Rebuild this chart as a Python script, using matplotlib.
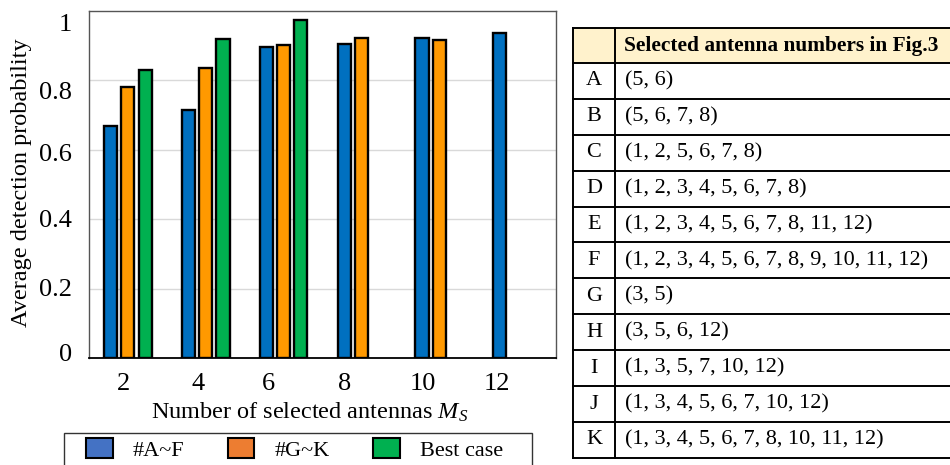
import numpy as np
import matplotlib
matplotlib.use("Agg")
import matplotlib.pyplot as plt
from matplotlib.patches import Rectangle, Patch

plt.rcParams['font.family'] = ['Liberation Serif', 'DejaVu Serif']
plt.rcParams['mathtext.fontset'] = 'custom'
plt.rcParams['mathtext.rm'] = 'Liberation Serif'
plt.rcParams['mathtext.it'] = 'Liberation Serif:italic'

# ---- data ----
categories = [2, 4, 6, 8, 10, 12]
series_names = ['#A~F', '#G~K', 'Best case']
vals_AF = [0.670, 0.714, 0.895, 0.904, 0.922, 0.937]
vals_GK = [0.781, 0.837, 0.901, 0.921, 0.917, np.nan]
vals_best = [0.829, 0.918, 0.974, np.nan, np.nan, np.nan]
yticks = [0, 0.2, 0.4, 0.6, 0.8, 1.0]
ytick_labels = ['0', '0.2', '0.4', '0.6', '0.8', '1']

table_letters = ['A', 'B', 'C', 'D', 'E', 'F', 'G', 'H', 'I', 'J', 'K']
table_sets = ['(5, 6)', '(5, 6, 7, 8)', '(1, 2, 5, 6, 7, 8)', '(1, 2, 3, 4, 5, 6, 7, 8)',
              '(1, 2, 3, 4, 5, 6, 7, 8, 11, 12)', '(1, 2, 3, 4, 5, 6, 7, 8, 9, 10, 11, 12)',
              '(3, 5)', '(3, 5, 6, 12)', '(1, 3, 5, 7, 10, 12)', '(1, 3, 4, 5, 6, 7, 10, 12)',
              '(1, 3, 4, 5, 6, 7, 8, 10, 11, 12)']
table_header = 'Selected antenna numbers in Fig.3'

# ---- styles ----
bar_colors = ['#0070C0', '#FF9900', '#00B050']
legend_colors = ['#4472C4', '#ED7D31', '#00B050']

W, H = 950, 465
fig = plt.figure(figsize=(W / 100, H / 100), dpi=100)

def fx(px):
    return px / W

def fy(py):
    return 1 - py / H

ax = fig.add_axes([fx(89), fy(358), fx(556) - fx(89), fy(11) - fy(358)])

x = np.arange(len(categories))
pitch = 0.222
bw = 0.168
for i, (vals, c) in enumerate(zip([vals_AF, vals_GK, vals_best], bar_colors)):
    ax.bar(x + (i - 1) * pitch, vals, width=bw, color=c, edgecolor='black',
           linewidth=1.7, zorder=3)

ax.set_xlim(-0.5, len(categories) - 0.5)
ax.set_ylim(0, 1.0)

# gridlines at interior ticks
for g in yticks[1:-1]:
    ax.axhline(g, color='#d9d9d9', lw=1.0, zorder=1)

# tick labels (slightly offset as in reference)
ytick_label_pos = [0.015, 0.202, 0.401, 0.591, 0.772, 0.968]
ax.set_yticks(ytick_label_pos)
ax.set_yticklabels(ytick_labels, fontsize=19)
xtick_label_pos = [-0.063, 0.901, 1.80, 2.79, 3.79, 4.744]
ax.set_xticks(xtick_label_pos)
ax.set_xticklabels([str(c) for c in categories], fontsize=19)
ax.tick_params(axis='y', length=0, pad=12)
ax.tick_params(axis='x', length=0, pad=11)

for s in ['left', 'top', 'right']:
    ax.spines[s].set_color('#555555')
    ax.spines[s].set_linewidth(1.0)
ax.spines['bottom'].set_color('black')
ax.spines['bottom'].set_linewidth(1.3)

fig.text(fx(22), fy(183), 'Average detection probability', rotation=90,
         ha='center', va='center', fontsize=17.5)
fig.text(fx(310), fy(412), 'Number of selected antennas $M_S$',
         ha='center', va='center', fontsize=17.5)

# legend
handles = [Patch(facecolor=c, edgecolor='black', linewidth=1.5) for c in legend_colors]
fig.legend(handles, series_names, loc='upper left',
           bbox_to_anchor=(fx(86), fy(438)), ncol=3, frameon=False,
           fontsize=16, borderpad=0, borderaxespad=0,
           handlelength=1.2, handleheight=1.0, handletextpad=0.9,
           columnspacing=1.95)
fig.patches.append(Rectangle((fx(64), fy(475)), fx(532) - fx(64), fy(433) - fy(475),
                             transform=fig.transFigure, fill=False,
                             edgecolor='#333333', linewidth=1.0))

# table
tx0, tx1, tx2 = 573, 615, 1000
ty0 = 28
hh = 35
rh = 35.9
fig.patches.append(Rectangle((fx(tx0), fy(ty0 + hh)), fx(tx2) - fx(tx0), fy(ty0) - fy(ty0 + hh),
                             transform=fig.transFigure, facecolor='#FFF2CC',
                             edgecolor='none', zorder=0))
fig.text(fx(624), fy(ty0 + hh / 2), table_header, ha='left', va='center',
         fontsize=15.4, fontweight='bold')
ys = [ty0, ty0 + hh] + [ty0 + hh + rh * (k + 1) for k in range(len(table_letters))]
for yy in ys:
    fig.add_artist(plt.Line2D([fx(tx0), fx(tx2)], [fy(yy), fy(yy)],
                              transform=fig.transFigure, color='black', lw=1.4))
for xx in [tx0, tx1]:
    fig.add_artist(plt.Line2D([fx(xx), fx(xx)], [fy(ys[0]), fy(ys[-1])],
                              transform=fig.transFigure, color='black', lw=1.4))
for k, (let, st) in enumerate(zip(table_letters, table_sets)):
    yc = ty0 + hh + rh * (k + 0.5)
    fig.text(fx((tx0 + tx1) / 2), fy(yc), let, ha='center', va='center', fontsize=16)
    fig.text(fx(625), fy(yc), st, ha='left', va='center', fontsize=16)

fig.savefig('out.png', dpi=100)
